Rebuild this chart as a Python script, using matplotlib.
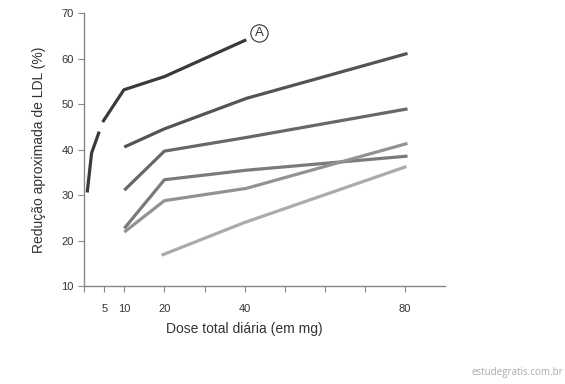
import numpy as np
import matplotlib
matplotlib.use("Agg")
import matplotlib.pyplot as plt

plt.rcParams['font.family'] = ['Liberation Sans', 'DejaVu Sans']

# dose (mg) e redução de LDL (%) por curva
xA = [0.75, 1.85, 3.75, np.nan, 4.6, 9.9, 20, 40.4]
yA = [30.6, 39.3, 44.0, np.nan, 46.1, 53.2, 56.1, 64.2]
x4 = [10, 20, 40.4, 80.6]
y2 = [40.6, 44.6, 51.3, 61.2]
y3 = [31.1, 39.7, 42.7, 49.0]
y4 = [22.7, 33.4, 35.5, 38.6]
y5 = [21.9, 28.8, 31.5, 41.4]
x6 = [19.3, 40, 80.3]
y6 = [16.8, 24.0, 36.3]

xticks = [0, 5, 10, 20, 30, 40, 50, 60, 70, 80]
xlabels = ['', '5', '10', '20', '', '40', '', '', '', '80']
yticks = [10, 20, 30, 40, 50, 60, 70]

fig = plt.figure(figsize=(5.65, 3.84), dpi=100)
ax = fig.add_axes([0.149, 0.255, 0.639, 0.71])

lw = 2.3
ax.plot(xA, yA, color='#3a3a3a', lw=lw, solid_capstyle='butt')
ax.plot(x4, y2, color='#545454', lw=lw, solid_capstyle='butt')
ax.plot(x4, y3, color='#686868', lw=lw, solid_capstyle='butt')
ax.plot(x4, y4, color='#7a7a7a', lw=lw, solid_capstyle='butt')
ax.plot(x4, y5, color='#929292', lw=lw, solid_capstyle='butt')
ax.plot(x6, y6, color='#ababab', lw=lw, solid_capstyle='butt')

ax.text(43.7, 65.6, 'A', ha='center', va='center', fontsize=9.5, color='#333333',
        bbox=dict(boxstyle='circle,pad=0.2', fc='white', ec='#333333', lw=0.8))

ax.set_xlim(0, 90)
ax.set_ylim(10, 70)
ax.set_xticks(xticks)
ax.set_xticklabels(xlabels)
ax.set_yticks(yticks)

for s in ['top', 'right']:
    ax.spines[s].set_visible(False)
for s in ['left', 'bottom']:
    ax.spines[s].set_color('#888888')
    ax.spines[s].set_linewidth(1.0)
ax.tick_params(colors='#888888', labelcolor='#333333', labelsize=8, length=4)
ax.tick_params(axis='x', pad=9)

ax.set_ylabel('Redução aproximada de LDL (%)', fontsize=10, color='#333333', labelpad=11)
ax.text(40, -0.13, 'Dose total diária (em mg)', transform=ax.get_xaxis_transform(),
        ha='center', va='top', fontsize=10, color='#333333')

fig.text(0.997, 0.015, 'estudegratis.com.br', ha='right', va='bottom',
         fontsize=7, color='#aaaaaa', family=['Open Sans', 'DejaVu Sans'])

fig.savefig('out.png', dpi=100)
